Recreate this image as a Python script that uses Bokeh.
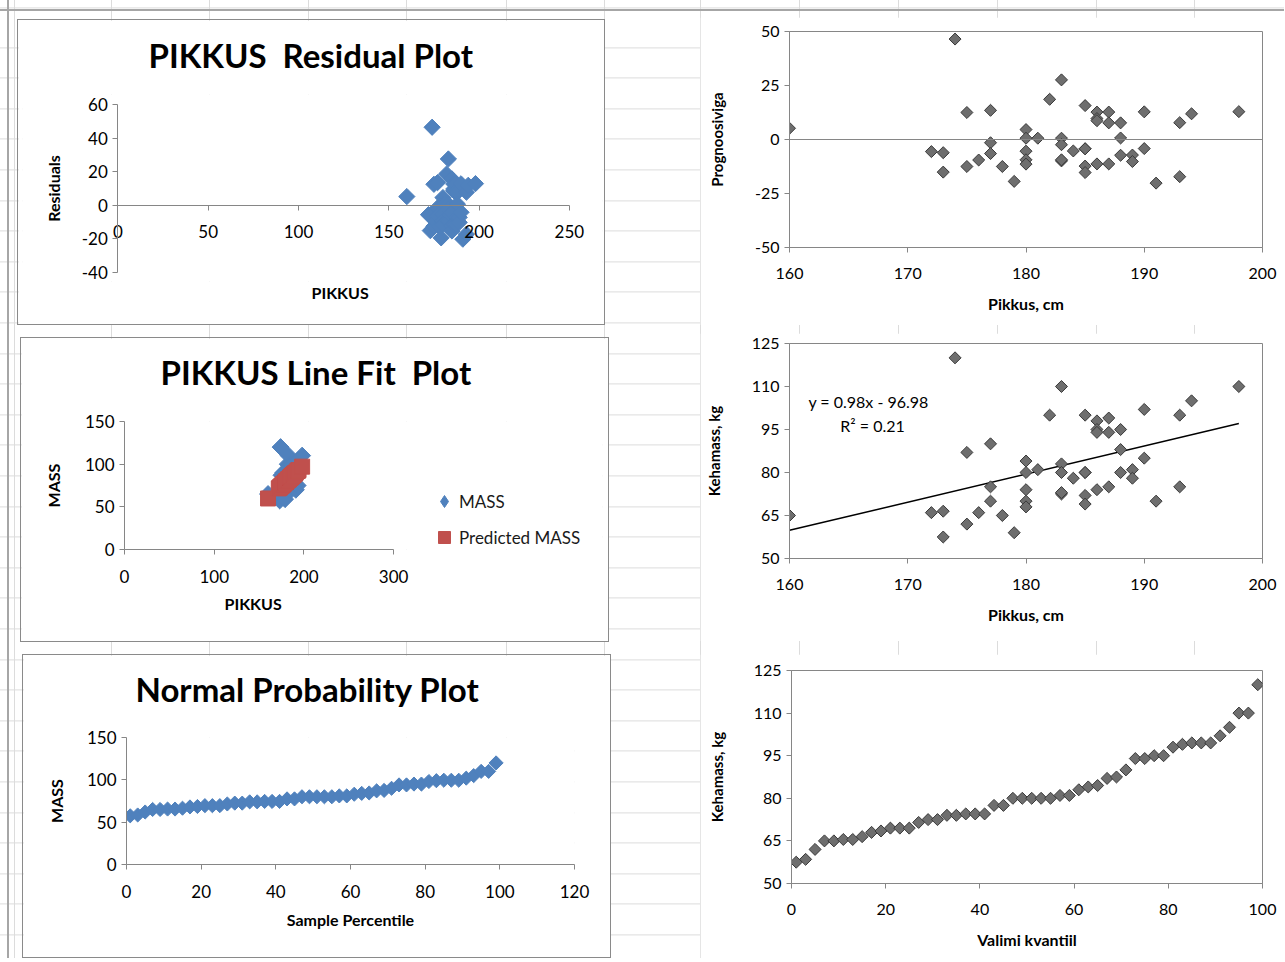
import math
from bokeh.plotting import figure
from bokeh.models import Label, Span, Legend, LegendItem, FixedTicker, Title
from bokeh.layouts import row, column
from bokeh.embed import file_html
from bokeh.resources import INLINE

# ---------------- data ----------------
pikkus = [160, 172, 173, 173, 174, 175, 175, 176, 177, 177, 177, 178, 179,
          180, 180, 180, 180, 180, 181, 182, 183, 183, 183, 183, 183, 184,
          185, 185, 185, 185, 185, 186, 186, 186, 186, 187, 187, 187,
          188, 188, 188, 189, 189, 190, 190, 191, 193, 193, 194, 198]
mass = [65, 66, 66.5, 57.5, 120, 87, 62, 66, 90, 75, 70, 65, 59,
        84, 80, 74, 70, 68, 81, 100, 110, 83, 80, 72.5, 73, 78,
        100, 80, 80, 72, 69, 98, 95, 94, 74, 99, 94, 75,
        95, 88, 80, 81, 78, 102, 85, 70, 100, 75, 105, 110]
residuals = [5.2, -5.6, -6.1, -15.1, 46.5, 12.5, -12.5, -9.5, 13.5, -1.5, -6.5, -12.5, -19.4,
             4.6, 0.6, -5.4, -9.4, -11.4, 0.6, 18.6, 27.6, 0.6, -2.4, -9.9, -9.4, -5.3,
             15.7, -4.3, -4.3, -12.3, -15.3, 12.7, 9.7, 8.7, -11.3, 12.7, 7.7, -11.3,
             7.7, 0.7, -7.3, -7.2, -10.2, 12.8, -4.2, -20.2, 7.8, -17.2, 11.9, 12.9]
predicted = [59.8, 71.6, 72.6, 72.6, 73.5, 74.5, 74.5, 75.5, 76.5, 76.5, 76.5, 77.5, 78.4,
             79.4, 79.4, 79.4, 79.4, 79.4, 80.4, 81.4, 82.4, 82.4, 82.4, 82.4, 82.4, 83.3,
             84.3, 84.3, 84.3, 84.3, 84.3, 85.3, 85.3, 85.3, 85.3, 86.3, 86.3, 86.3,
             87.3, 87.3, 87.3, 88.2, 88.2, 89.2, 89.2, 90.2, 92.2, 92.2, 93.1, 97.1]
percentile = [1, 3, 5, 7, 9, 11, 13, 15, 17, 19, 21, 23, 25, 27, 29, 31, 33, 35, 37, 39,
              41, 43, 45, 47, 49, 51, 53, 55, 57, 59, 61, 63, 65, 67, 69, 71, 73, 75, 77, 79,
              81, 83, 85, 87, 89, 91, 93, 95, 97, 99]
mass_sorted = [57.5, 58.5, 62, 65, 65, 65.5, 65.5, 66.5, 68, 68.5,
               69.5, 69.5, 69.5, 71.5, 72.5, 72.5, 74, 74, 74.5, 74.5,
               74.5, 77.5, 77.5, 80, 80, 80, 80, 80, 81, 81,
               83, 84, 84.5, 87, 87.5, 90, 94, 94, 95, 95,
               98, 99, 99.5, 99.5, 99.5, 102, 105, 110, 110, 120]
trend_slope = 0.98
trend_intercept = -96.98
trend_r2 = 0.21
trend_x = [160, 198]

titles = ["PIKKUS\u00a0 Residual Plot", "PIKKUS Line Fit\u00a0 Plot", "Normal Probability Plot"]

res_xticks = [0, 50, 100, 150, 200, 250]
res_yticks = [-40, -20, 0, 20, 40, 60]
fit_xticks = [0, 100, 200, 300]
fit_yticks = [0, 50, 100, 150]
prob_xticks = [0, 20, 40, 60, 80, 100, 120]
prob_yticks = [0, 50, 100, 150]
r_xticks = [160, 170, 180, 190, 200]
r1_yticks = [-50, -25, 0, 25, 50]
r_yticks = [50, 65, 80, 95, 110, 125]
q_xticks = [0, 20, 40, 60, 80, 100]

# ---------------- styling ----------------
FONT = "Lato"
BLUE = "#4F81BD"
RED = "#C0504D"
AXG = "#868686"
FRAME = "1px solid #8a8a8a"


def base_fig(w, h, xr, yr, ml, mr, mt, mb, margin, styles=None):
    p = figure(width=w, height=h, x_range=xr, y_range=yr, output_backend="svg",
               toolbar_location=None, min_border_left=ml, min_border_right=mr,
               min_border_top=mt, min_border_bottom=mb, margin=margin, frame_align=False)
    if styles:
        p.styles = styles
    p.xgrid.visible = False
    p.ygrid.visible = False
    p.background_fill_color = "white"
    p.border_fill_color = "white"
    p.outline_line_color = None
    return p


def style_axis(ax, ticks, size="17px", label_size="16px"):
    ax.ticker = FixedTicker(ticks=ticks)
    ax.major_label_overrides = {t: str(t) for t in ticks if t < 0}
    ax.axis_line_color = AXG
    ax.major_tick_line_color = AXG
    ax.major_tick_in = 0
    ax.major_tick_out = 5
    ax.minor_tick_line_color = None
    ax.major_label_text_font = FONT
    ax.major_label_text_font_size = size
    ax.major_label_text_color = "black"
    ax.axis_label_text_font = FONT
    ax.axis_label_text_font_style = "bold"
    ax.axis_label_text_font_size = label_size
    ax.axis_label_text_color = "black"


def chart_title(p, text, offset, spacer):
    # an empty spacer title keeps the chart title at the right height above the plot area
    p.add_layout(Title(text=" ", standoff=spacer, text_font_size="10px"), "above")
    p.add_layout(Title(text=text, align="left", offset=offset, vertical_align="middle",
                       standoff=10, text_font=FONT, text_font_style="bold",
                       text_font_size="33px", text_color="black"), "above")


def x_title(p, text, offset, standoff, valign="top"):
    p.add_layout(Title(text=text, align="left", offset=offset, vertical_align=valign,
                       standoff=standoff, text_font=FONT, text_font_style="bold",
                       text_font_size="16px", text_color="black"), "below")


# ---------------- left 1: residual plot ----------------
L1 = base_fig(588, 306, (-52.78, 268.33), (-45.42, 66.02), 4, 4, 74, 45,
              (19, 0, 0, 17), {"border": FRAME})
L1.scatter(pikkus, residuals, marker="square", angle=math.pi / 4, size=11.5,
           fill_color=BLUE, line_color=BLUE)
xa = L1.xaxis[0]
style_axis(xa, res_xticks)
xa.fixed_location = 0
xa.bounds = (0, 250)
xa.major_label_standoff = 15
ya = L1.yaxis[0]
style_axis(ya, res_yticks)
ya.fixed_location = 0
ya.bounds = (-40, 60)
ya.axis_label = "Residuals"
ya.axis_label_standoff = 15
x_title(L1, "PIKKUS", 289, 0, "middle")
chart_title(L1, titles[0], 126, 1)

# ---------------- left 2: line fit plot ----------------
L2 = base_fig(589, 305, (0, 532.84), (0, 150), 103, 8, 83, 94, (12, 0, 0, 20), {"border": FRAME})
# diamond key series sits underneath the (larger) rotated-square markers; it gives the legend its diamond
r_mass_key = L2.scatter(pikkus, mass, marker="diamond", size=12, fill_color=BLUE, line_color=BLUE)
r_mass = L2.scatter(pikkus, mass, marker="square", angle=math.pi / 4, size=12,
                    fill_color=BLUE, line_color=BLUE)
r_pred = L2.scatter(pikkus, predicted, marker="square", size=15, fill_color=RED, line_color=RED)
style_axis(L2.xaxis[0], fit_xticks)
L2.xaxis[0].bounds = (0, 300)
L2.xaxis[0].major_label_standoff = 15
style_axis(L2.yaxis[0], fit_yticks)
L2.yaxis[0].axis_label = "MASS"
L2.yaxis[0].axis_label_standoff = 19
x_title(L2, "PIKKUS", 100, 17)
legend = Legend(items=[LegendItem(label="MASS", renderers=[r_mass_key]),
                       LegendItem(label="Predicted MASS", renderers=[r_pred])],
                location=(305, -3), glyph_width=30, glyph_height=30, spacing=6,
                label_standoff=-11, padding=0, margin=0, border_line_color=None,
                background_fill_alpha=0, label_text_font=FONT,
                label_text_font_size="17px", label_text_color="#1a1a1a")
L2.add_layout(legend)
chart_title(L2, titles[1], 36, 11)

# ---------------- left 3: normal probability plot ----------------
L3 = base_fig(589, 304, (0, 120), (0, 150), 103, 38, 82, 95, (12, 0, 0, 22), {"border": FRAME})
L3.scatter(percentile, mass_sorted, marker="square", angle=math.pi / 4, size=10,
           fill_color=BLUE, line_color=BLUE)
style_axis(L3.xaxis[0], prob_xticks)
style_axis(L3.yaxis[0], prob_yticks)
L3.xaxis[0].axis_label = "Sample Percentile"
L3.xaxis[0].major_label_standoff = 15
L3.xaxis[0].axis_label_standoff = 9
L3.yaxis[0].axis_label = "MASS"
L3.yaxis[0].axis_label_standoff = 18
chart_title(L3, titles[2], 9, 10)


# ---------------- right charts ----------------
def right_fig(h, xr, yr, ml, mt, mb, margin, xticks, yticks, xlabel, ylabel, ystand):
    p = base_fig(584, h, xr, yr, ml, 22, mt, mb, margin)
    p.outline_line_color = AXG
    style_axis(p.xaxis[0], xticks, size="16px", label_size="16px")
    style_axis(p.yaxis[0], yticks, size="16px", label_size="15px")
    p.xaxis[0].axis_label = xlabel
    p.yaxis[0].axis_label = ylabel
    p.xaxis[0].major_label_standoff = 15
    p.xaxis[0].axis_label_standoff = 12
    p.yaxis[0].axis_label_standoff = ystand
    return p


def gray_points(p, x, y):
    p.scatter(x, y, marker="square", angle=math.pi / 4, size=8.5,
              fill_color="#6e6e6e", line_color="#3a3a3a", line_width=1)


R1 = right_fig(308, (160, 200), (-50, 50), 89, 14, 78, (17, 0, 0, 89),
               r_xticks, r1_yticks, "Pikkus, cm", "Prognoosiviga", 26)
R1.add_layout(Span(location=0, dimension="width", line_color=AXG, line_width=1))
gray_points(R1, pikkus, residuals)

R2 = right_fig(308, (160, 200), (50, 125), 89, 10, 83, (8, 0, 0, 89),
               r_xticks, r_yticks, "Pikkus, cm", "Kehamass, kg", 26)
R2.line(trend_x, [trend_slope * v + trend_intercept for v in trend_x], line_color="black", line_width=1.5)
gray_points(R2, pikkus, mass)
R2.add_layout(Label(x=161.6, y=104.8, text=f"y = {trend_slope}x - {abs(trend_intercept)}",
                    text_font=FONT, text_font_size="16px", text_baseline="middle", text_color="black"))
R2.add_layout(Label(x=164.3, y=96.4, text=f"R² = {trend_r2}",
                    text_font=FONT, text_font_size="16px", text_baseline="middle", text_color="black"))

R3 = right_fig(304, (0, 100), (50, 125), 91, 16, 75, (13, 0, 0, 89),
               q_xticks, r_yticks, "Valimi kvantiil", "Kehamass, kg", 25)
gray_points(R3, percentile, mass_sorted)

# spreadsheet cell grid behind the charts
vlines = [14, 111, 209, 308, 406, 506, 604, 700, 799, 898, 997, 1096, 1194]
stops = []
for xv in vlines:
    stops += [f"transparent {xv}px", f"#dcdcdc {xv}px", f"#dcdcdc {xv + 1}px", f"transparent {xv + 1}px"]
vgrad = "linear-gradient(to right, " + ", ".join(stops) + ")"
hgrad = ("repeating-linear-gradient(to bottom, transparent 0px, transparent 29.6px, "
         "#dcdcdc 29.6px, #dcdcdc 30.6px)")
edge = ("linear-gradient(to bottom, transparent 9px, #a6a6a6 9px, #a6a6a6 11px, transparent 11px), "
        "linear-gradient(to right, transparent 7px, #a6a6a6 7px, #a6a6a6 9px, transparent 9px)")
bg_styles = {"background-color": "white",
             "background-image": edge + ", " + vgrad + ", " + hgrad,
             "background-position": "0 0, 0 0, 0 0, 0 17.4px"}

layout = row(column(L1, L2, L3, spacing=0), column(R1, R2, R3, spacing=0), spacing=0,
             styles=bg_styles)
open("out.html", "w").write(file_html(layout, INLINE))
